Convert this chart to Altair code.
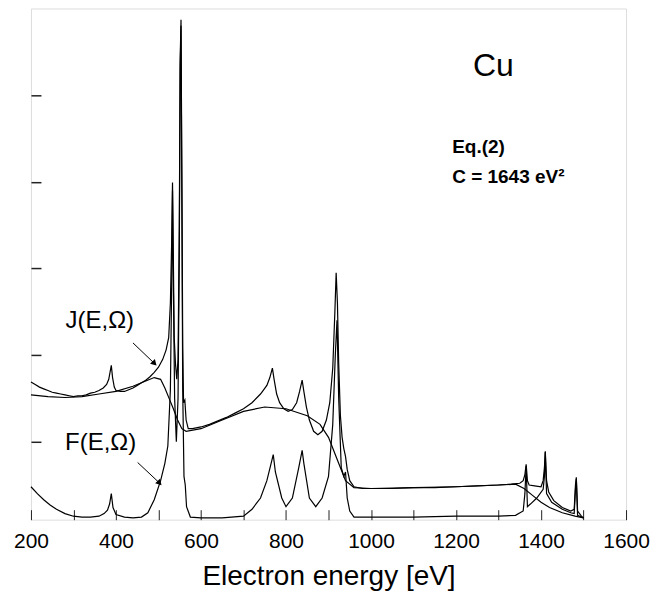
import altair as alt
import pandas as pd

# ---- measured spectrum J(E,Omega) (upper, noisy) ----
J_E = [200, 210, 220, 230, 240, 250, 260, 270, 280, 290, 300, 310, 320, 330, 340, 350, 360, 370, 378, 383, 386, 389, 392, 396, 400,
       410, 420, 430, 440, 450, 460, 470, 480, 490, 500, 510, 518, 524, 528, 531, 533, 535, 537, 540, 543, 546, 549, 551, 553, 555,
       557, 559, 562, 565, 570, 580, 600, 620, 640, 660, 680, 700, 720, 740, 755, 762, 768, 772, 778, 785, 795, 805, 815, 825,
       832, 838, 842, 848, 855, 865, 875, 885, 895, 903, 910, 915, 918, 921, 924, 928, 932, 936, 940, 944, 950, 960, 980,
       1000, 1050, 1100, 1150, 1200, 1250, 1300, 1330, 1350, 1358, 1362, 1365, 1368, 1372, 1385, 1400, 1405, 1408, 1410, 1413,
       1418, 1430, 1450, 1470, 1478, 1481, 1483, 1486, 1495, 1500]
J_I = [1.69, 1.66, 1.63, 1.61, 1.59, 1.57, 1.56, 1.55, 1.54, 1.53, 1.52, 1.53, 1.53, 1.54, 1.56, 1.57, 1.59, 1.62, 1.66, 1.72, 1.80, 1.88, 1.74, 1.63, 1.59,
       1.58, 1.58, 1.60, 1.62, 1.65, 1.68, 1.71, 1.75, 1.80, 1.86, 1.95, 2.06, 2.20, 2.60, 3.30, 3.99, 3.10, 2.20, 1.90, 1.72, 1.95, 3.50, 5.40, 5.87, 4.10,
       2.10, 1.45, 1.48, 1.25, 1.15, 1.15, 1.17, 1.20, 1.24, 1.28, 1.33, 1.38, 1.45, 1.55, 1.65, 1.74, 1.85, 1.72, 1.55, 1.45, 1.38, 1.35, 1.37, 1.45,
       1.58, 1.71, 1.58, 1.40, 1.25, 1.12, 1.08, 1.12, 1.25, 1.45, 1.85, 2.50, 2.95, 2.60, 1.90, 1.30, 1.05, 0.92, 0.83, 0.68, 0.55, 0.48, 0.46,
       0.46, 0.46, 0.47, 0.47, 0.48, 0.49, 0.50, 0.51, 0.52, 0.55, 0.62, 0.74, 0.55, 0.50, 0.49, 0.48, 0.55, 0.70, 0.89, 0.55,
       0.42, 0.32, 0.24, 0.20, 0.22, 0.50, 0.59, 0.20, 0.14, 0.12]

# ---- smooth background curve (upper) ----
B_E = [200, 240, 280, 320, 360, 400, 440, 470, 490, 505, 515, 525, 535, 545, 555, 565, 600, 650, 700, 750, 800, 850, 880,
       900, 920, 940, 960, 1000, 1100, 1200, 1300, 1340, 1360, 1380, 1400, 1420, 1450, 1480, 1500]
B_I = [1.54, 1.52, 1.51, 1.52, 1.55, 1.58, 1.64, 1.70, 1.74, 1.72, 1.62, 1.50, 1.38, 1.25, 1.15, 1.12, 1.15, 1.25, 1.35, 1.40, 1.38, 1.30, 1.20,
       1.05, 0.80, 0.55, 0.47, 0.46, 0.47, 0.48, 0.50, 0.51, 0.46, 0.38, 0.30, 0.24, 0.18, 0.14, 0.12]

# ---- F(E,Omega) (lower, noisy) ----
F_E = [200, 215, 230, 245, 260, 280, 300, 320, 340, 360, 372, 380, 385, 389, 393, 400, 420, 440, 460, 475, 490, 505, 515, 522, 528, 531, 533, 535,
       538, 542, 546, 549, 551, 553, 555, 557, 560, 563, 566, 575, 600, 650, 700, 720, 740, 755, 765, 770, 775, 790, 800, 815, 830, 838, 842,
       855, 870, 885, 900, 910, 916, 920, 924, 930, 936, 940, 944, 950, 960, 1000, 1100, 1200, 1300, 1340, 1358, 1362, 1365, 1368, 1375,
       1390, 1405, 1408, 1410, 1413, 1425, 1450, 1470, 1478, 1481, 1483, 1486, 1495, 1500]
F_I = [0.48, 0.40, 0.33, 0.27, 0.22, 0.17, 0.14, 0.13, 0.13, 0.14, 0.17, 0.21, 0.28, 0.40, 0.24, 0.16, 0.13, 0.12, 0.13, 0.18, 0.33, 0.55, 0.75, 0.95, 1.60, 2.80, 3.90, 2.80,
       1.50, 1.00, 1.50, 3.20, 5.30, 5.80, 3.80, 1.60, 0.60, 0.50, 0.25, 0.13, 0.12, 0.12, 0.14, 0.22, 0.35, 0.55, 0.75, 0.85, 0.65, 0.35, 0.25, 0.35, 0.70, 0.90, 0.75,
       0.35, 0.25, 0.35, 0.60, 1.20, 2.00, 2.40, 1.50, 0.70, 0.60, 0.65, 0.35, 0.20, 0.13, 0.13, 0.13, 0.14, 0.14, 0.15, 0.20, 0.40, 0.72, 0.25, 0.28,
       0.35, 0.45, 0.60, 0.88, 0.40, 0.30, 0.22, 0.18, 0.17, 0.45, 0.57, 0.15, 0.13, 0.12]

# ---- annotations ----
LBL_E = [362, 364]
LBL_I = [2.39, 0.99]
LBL_T = ["J(E,Ω)", "F(E,Ω)"]
ARR_E0 = [440, 451]
ARR_I0 = [2.14, 0.76]
ARR_E1 = [489, 501]
ARR_I1 = [1.91, 0.53]
NOTE_E = [1191, 1191]
NOTE_I = [4.40, 4.06]
NOTE_T = ["Eq.(2)", "C = 1643 eV²"]
ELEM_E = [1288]
ELEM_I = [5.33]
ELEM_T = ["Cu"]

FONT = "Liberation Sans"

frames = []
for name, E, I in [("J", J_E, J_I), ("B", B_E, B_I), ("F", F_E, F_I)]:
    frames.append(pd.DataFrame({"E": E, "I": I, "series": name}))
df = pd.concat(frames, ignore_index=True)

xscale = alt.Scale(domain=[200, 1600], nice=False, zero=False)
yscale = alt.Scale(domain=[0.1, 6.0], nice=False, zero=False)

xaxis = alt.Axis(values=list(range(200, 1700, 100)), tickSize=10, offset=-10, domain=False, grid=False,
                 tickColor="#222", tickWidth=1, format="d",
                 labelExpr="datum.value % 200 == 0 ? datum.label : ''", labelFont=FONT, labelFontSize=21,
                 labelColor="black", labelPadding=11, labelFlush=False,
                 title="Electron energy [eV]", titleFont=FONT, titleFontSize=28, titleFontWeight="normal",
                 titleColor="black", titlePadding=11)
yaxis = alt.Axis(values=[1, 2, 3, 4, 5], tickSize=10, offset=-10, domain=False, grid=False, labels=False,
                 tickColor="#222", tickWidth=1.5, title=None)

lines = alt.Chart(df).mark_line(color="black", strokeWidth=1.2).encode(
    x=alt.X("E:Q", scale=xscale, axis=xaxis),
    y=alt.Y("I:Q", scale=yscale, axis=yaxis),
    detail="series:N",
    order="E:Q",
)

lbl_df = pd.DataFrame({"E": LBL_E, "I": LBL_I, "t": LBL_T})
labels = alt.Chart(lbl_df).mark_text(font=FONT, fontSize=24, color="black", align="center", baseline="middle").encode(
    x=alt.X("E:Q", scale=xscale), y=alt.Y("I:Q", scale=yscale), text="t:N")

arr_rows = []
for i in range(len(ARR_E0)):
    arr_rows.append({"E": ARR_E0[i], "I": ARR_I0[i], "a": i})
    arr_rows.append({"E": ARR_E1[i], "I": ARR_I1[i], "a": i})
arr_df = pd.DataFrame(arr_rows)
shafts = alt.Chart(arr_df).mark_line(color="black", strokeWidth=1).encode(
    x=alt.X("E:Q", scale=xscale), y=alt.Y("I:Q", scale=yscale), detail="a:N")
head_df = pd.DataFrame({"E": ARR_E1, "I": ARR_I1})
heads = alt.Chart(head_df).mark_point(shape="triangle", filled=True, color="black", size=45, angle=136, opacity=1).encode(
    x=alt.X("E:Q", scale=xscale), y=alt.Y("I:Q", scale=yscale))

note_df = pd.DataFrame({"E": NOTE_E, "I": NOTE_I, "t": NOTE_T})
notes = alt.Chart(note_df).mark_text(font=FONT, fontSize=19, fontWeight="bold", color="black", align="left", baseline="middle").encode(
    x=alt.X("E:Q", scale=xscale), y=alt.Y("I:Q", scale=yscale), text="t:N")

elem_df = pd.DataFrame({"E": ELEM_E, "I": ELEM_I, "t": ELEM_T})
elem = alt.Chart(elem_df).mark_text(font=FONT, fontSize=32, color="black", align="center", baseline="middle").encode(
    x=alt.X("E:Q", scale=xscale), y=alt.Y("I:Q", scale=yscale), text="t:N")

chart = alt.layer(lines, shafts, heads, labels, notes, elem).properties(
    width=596, height=512,
    autosize=alt.AutoSizeParams(type="none"),
    padding={"left": 23, "top": 0, "right": 30, "bottom": 80},
).configure_view(stroke="#333", strokeWidth=1.6).configure(background="white")

chart.save("out.html", embed_options={"renderer": "svg", "actions": False})
